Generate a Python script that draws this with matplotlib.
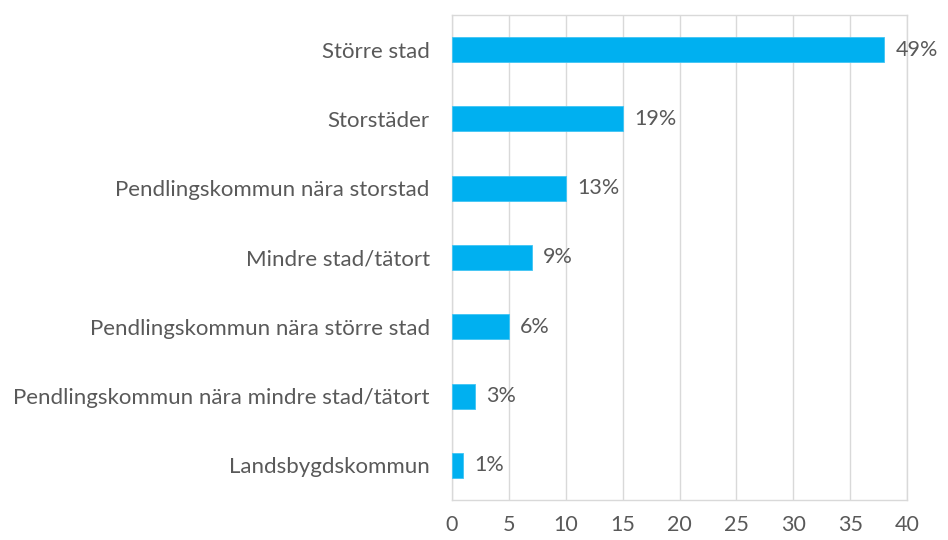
import matplotlib
matplotlib.use("Agg")
import matplotlib.pyplot as plt

# data (counts, shown as share of total)
categories = ["Större stad", "Storstäder", "Pendlingskommun nära storstad",
              "Mindre stad/tätort", "Pendlingskommun nära större stad",
              "Pendlingskommun nära mindre stad/tätort", "Landsbygdskommun"]
counts = [38, 15, 10, 7, 5, 2, 1]
pct_labels = ["49%", "19%", "13%", "9%", "6%", "3%", "1%"]
xticks = [0, 5, 10, 15, 20, 25, 30, 35, 40]

text_col = "#595959"
grid_col = "#D9D9D9"
bar_col = "#00B0F0"

plt.rcParams["font.family"] = ["Lato", "DejaVu Sans"]

fig = plt.figure(figsize=(9.48, 5.4), dpi=100)
ax = fig.add_axes([0.4768, 0.0741, 0.48, 0.8981])

ypos = list(range(len(categories)))
ax.barh(ypos, counts, height=0.36, color=bar_col, edgecolor="#40C4F4",
        linewidth=0.6, zorder=3)

for y, v, lab in zip(ypos, counts, pct_labels):
    ax.text(v + 1.0, y, lab, va="center", ha="left", fontsize=15.5,
            color=text_col)

ax.set_xlim(0, 40)
ax.set_ylim(len(categories) - 0.5, -0.5)
ax.set_xticks(xticks)
ax.set_yticks(ypos)
ax.set_yticklabels(categories)
ax.tick_params(axis="both", length=0, labelcolor=text_col)
ax.tick_params(axis="y", pad=16, labelsize=16)
ax.tick_params(axis="x", pad=11, labelsize=15.5)

ax.grid(axis="x", color=grid_col, linewidth=1.0, zorder=0)
for s in ax.spines.values():
    s.set_color(grid_col)
    s.set_linewidth(1.0)

fig.savefig("out.png", dpi=100)
